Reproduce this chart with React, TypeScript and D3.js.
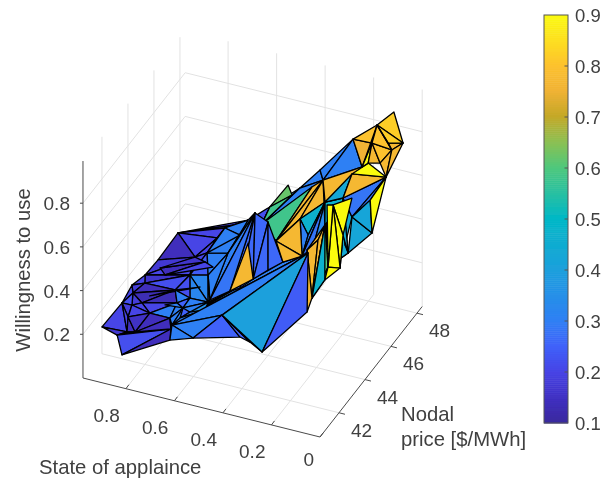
import React from 'react';
import * as d3 from 'd3';

const stateOfAppliance = [
  0.943, 0.834, 0.857, 0.927, 0.941, 0.919, 0.923, 0.686, 0.745, 0.799,
  0.745, 0.739, 0.637, 0.923, 0.902, 0.739, 0.646, 0.647, 0.573, 0.749,
  0.928, 0.87, 0.737, 0.899, 0.88, 0.815, 0.843, 0.721, 0.804, 0.644,
  0.688, 0.691, 0.528, 0.636, 0.431, 0.369, 0.252, 0.243, 0.205, 0.321,
  0.573, 0.593, 0.528, 0.329, 0.48, 0.524, 0.394, 0.215, 0.327, 0.344,
  0.451, 0.349, 0.407, 0.529, 0.396, 0.241, 0.322, 0.343, 0.113, 0.152,
  0.226, 0.185, 0.195, 0.033, 0.024, 0.071, 0.08, 0.004, 0.112, 0.083,
  0.134, 0.128, 0.112, 0.271, 0.002, 0.072, 0.248, 0.106, 0.024, 0.167,
  0.092, 0.006, 0.144, 0.248, 0.113, 0.031, 0.026, 0.057, 0.308, 0.358, 0.725,
  0.89, 0.722, 0.854, 0.651, 0.862, 0.642, 0.744, 0.609, 0.627, 0.533,
  0.615, 0.501, 0.453, 0.33, 0.38,
];
const nodalPrice = [
  41.37, 40.87, 40.93, 42.61, 43.64, 45.23, 46.84, 47.82, 47.13, 45.84,
  46.53, 45.65, 45.35, 44.31, 43.9, 44.32, 43.99, 42.61, 42.63, 43.38,
  43.47, 43.08, 43.3, 42.85, 42.2, 41.53, 41.43, 42.45, 42.45, 42.02,
  41.91, 41.89, 40.63, 41.02, 41.05, 41.27, 40.79, 44.16, 43.37, 41.14,
  42.76, 46.61, 43.46, 41.15, 44.36, 46.32, 45.04, 43.02, 43.26, 45.58,
  44.49, 46.43, 45.68, 46.55, 45.78, 45.27, 46.94, 45.95, 43.03, 44.01,
  44.14, 43.84, 44.8, 42.7, 43.06, 42.41, 43.04, 43.07, 44.4, 42.46,
  45.21, 45.39, 45.87, 47.37, 45.66, 45.59, 47.63, 46.52, 44.85, 45.58,
  47.94, 47.04, 47.62, 47.71, 46.65, 45.74, 46.55, 46.85, 46.29, 45.68, 47.38,
  44.85, 45.17, 44.56, 44.46, 43.53, 43.29, 42.5, 41.9, 41.48, 41.64,
  45.86, 43.74, 45.0, 46.17, 46.72,
];
const willingness = [
  0.18, 0.12, 0.2, 0.2, 0.2, 0.2, 0.2, 0.25, 0.25, 0.2,
  0.25, 0.25, 0.3, 0.2, 0.2, 0.25, 0.3, 0.3, 0.3, 0.25,
  0.18, 0.18, 0.2, 0.18, 0.18, 0.18, 0.18, 0.2, 0.2, 0.3,
  0.2, 0.15, 0.3, 0.3, 0.4, 0.3, 0.3, 0.5, 0.3, 0.3,
  0.3, 0.4, 0.3, 0.75, 0.3, 0.4, 0.35, 0.75, 0.6, 0.35,
  0.55, 0.6, 0.65, 0.45, 0.6, 0.75, 0.5, 0.35, 0.75, 0.55,
  0.3, 0.6, 0.4, 0.6, 0.9, 0.9, 0.85, 0.9, 0.6, 0.55,
  0.45, 0.8, 0.8, 0.5, 0.8, 0.85, 0.4, 0.45, 0.75, 0.45,
  0.9, 0.85, 0.85, 0.75, 0.85, 0.85, 0.85, 0.85, 0.7, 0.65, 0.25,
  0.2, 0.25, 0.2, 0.3, 0.18, 0.3, 0.25, 0.3, 0.3, 0.35,
  0.35, 0.3, 0.3, 0.35, 0.35,
];
// vertex a, vertex b, vertex c, face value; drawn in this order
const faces = [
  [6, 7, 90, 0.2], [6, 90, 8, 0.2], [6, 8, 10, 0.2], [6, 10, 9, 0.2], [6, 9, 5, 0.14],
  [10, 8, 11, 0.25], [9, 10, 11, 0.2],
  [5, 9, 13, 0.17], [9, 15, 13, 0.2], [9, 11, 15, 0.2], [11, 16, 15, 0.24], [11, 12, 16, 0.3],
  [11, 8, 7, 0.3], [11, 7, 12, 0.3], [8, 7, 101, 0.3], [8, 101, 11, 0.3],
  [13, 15, 14, 0.16], [4, 13, 14, 0.2], [4, 14, 20, 0.18],
  [91, 92, 93, 0.14], [92, 94, 93, 0.2], [9, 92, 91, 0.16],
  [14, 15, 19, 0.22], [14, 19, 20, 0.14], [20, 19, 21, 0.13], [21, 19, 22, 0.13], [20, 21, 23, 0.18],
  [15, 16, 18, 0.32], [15, 18, 17, 0.32], [15, 17, 19, 0.22], [95, 19, 96, 0.18],
  [0, 3, 26, 0.2], [3, 4, 20, 0.2], [3, 20, 23, 0.22], [3, 23, 24, 0.18], [3, 24, 26, 0.2],
  [0, 26, 2, 0.17], [24, 25, 26, 0.14], [21, 22, 28, 0.2], [21, 28, 23, 0.2], [23, 28, 24, 0.2],
  [24, 28, 25, 0.15], [22, 27, 28, 0.3], [22, 29, 27, 0.3], [19, 17, 22, 0.3], [22, 17, 29, 0.25],
  [22, 97, 29, 0.3], [17, 18, 29, 0.3], [28, 27, 25, 0.14], [26, 25, 2, 0.2], [2, 25, 30, 0.22],
  [2, 30, 1, 0.22], [30, 31, 1, 0.14], [25, 27, 30, 0.14], [27, 33, 30, 0.25], [27, 29, 33, 0.3],
  [33, 29, 18, 0.3], [33, 18, 42, 0.3], [33, 42, 44, 0.28], [33, 44, 46, 0.3], [33, 46, 49, 0.3], [33, 49, 37, 0.3],
  [29, 98, 99, 0.25], [98, 18, 100, 0.35], [99, 98, 100, 0.3], [33, 99, 100, 0.3],
  [7, 53, 50, 0.22], [7, 41, 50, 0.22], [53, 89, 50, 0.3], [89, 88, 55, 0.3], [88, 83, 55, 0.3],
  [89, 55, 50, 0.3], [12, 7, 41, 0.3], [12, 41, 40, 0.3], [16, 12, 40, 0.3], [16, 40, 18, 0.3],
  [53, 52, 54, 0.62], [53, 54, 50, 0.58], [50, 51, 48, 0.58], [50, 48, 46, 0.27],
  [41, 42, 102, 0.26], [41, 102, 44, 0.26], [41, 44, 45, 0.26], [40, 41, 42, 0.28], [42, 43, 44, 0.77],
  [44, 45, 103, 0.26], [103, 45, 46, 0.26],
  [48, 51, 55, 0.77], [48, 55, 47, 0.77], [48, 56, 47, 0.47], [47, 55, 56, 0.77],
  [47, 56, 105, 0.47], [47, 105, 49, 0.3], [49, 105, 56, 0.3], [48, 47, 49, 0.77],
  [48, 49, 46, 0.77], [49, 59, 56, 0.3], [49, 56, 104, 0.28], [104, 56, 59, 0.33], [55, 56, 58, 0.58],
  [56, 58, 59, 0.58], [57, 58, 61, 0.77], [57, 61, 60, 0.77], [61, 58, 60, 0.77], [58, 59, 62, 0.5],
  [58, 62, 60, 0.6], [62, 69, 60, 0.47], [58, 60, 69, 0.47], [57, 60, 38, 0.77],
  [56, 59, 79, 0.44], [59, 79, 70, 0.44], [59, 70, 62, 0.44], [70, 68, 62, 0.44], [68, 63, 62, 0.44],
  [56, 64, 58, 0.47], [56, 71, 64, 0.43],
  [73, 76, 79, 0.44], [73, 79, 70, 0.44], [73, 70, 68, 0.44], [76, 77, 70, 0.42],
  [74, 76, 73, 0.28], [74, 78, 76, 0.28], [76, 78, 77, 0.42], [74, 77, 78, 0.9],
  [66, 67, 68, 0.9], [66, 68, 63, 0.9], [66, 63, 62, 0.9], [65, 66, 62, 0.9], [69, 62, 63, 0.9],
  [83, 72, 55, 0.3], [55, 72, 56, 0.77], [56, 71, 73, 0.43], [73, 71, 74, 0.77], [71, 75, 74, 0.9],
  [83, 72, 84, 0.75], [83, 84, 82, 0.8], [82, 72, 84, 0.9], [84, 72, 75, 0.9], [84, 85, 75, 0.77],
  [84, 86, 85, 0.8], [84, 82, 86, 0.8], [86, 74, 85, 0.77], [87, 81, 86, 0.77], [81, 74, 86, 0.77],
  [82, 80, 81, 0.82], [82, 81, 87, 0.82], [82, 87, 86, 0.82],
  [33, 37, 34, 0.3], [33, 34, 32, 0.3], [33, 32, 31, 0.3], [34, 35, 32, 0.25], [34, 39, 35, 0.25],
  [34, 36, 39, 0.3], [34, 37, 36, 0.4], [37, 38, 36, 0.24],
];

const stateTicks = [0.8, 0.6, 0.4, 0.2, 0];
const priceTicks = [42, 44, 46, 48];
const willingnessTicks = [0.2, 0.4, 0.6, 0.8];
const colorbarTicks = [0.1, 0.2, 0.3, 0.4, 0.5, 0.6, 0.7, 0.8, 0.9];

const stateMax = 0.977;
const priceMin = 40.54;
const priceMax = 48.4;
const willingnessMax = 0.993;

// screen offsets of each data axis from the corner of the floor at state 0, lowest price
const originX = 320;
const originY = 437;
const stateToX = d3.scaleLinear().domain([0, 1]).range([0, -242.6]);
const stateToY = d3.scaleLinear().domain([0, 1]).range([0, -60.4]);
const priceToX = d3.scaleLinear().domain([priceMin, priceMin + 1]).range([0, 13]);
const priceToY = d3.scaleLinear().domain([priceMin, priceMin + 1]).range([0, -16.6]);
const willingnessToY = d3.scaleLinear().domain([0, 1]).range([0, -218.5]);

const project = (s: number, p: number, z: number): [number, number] => [
  originX + stateToX(s) + priceToX(p),
  originY + stateToY(s) + priceToY(p) + willingnessToY(z),
];

const parula = d3
  .scaleLinear<string>()
  .domain([0.1, 0.15, 0.2, 0.25, 0.3, 0.4, 0.5, 0.6, 0.65, 0.7, 0.75, 0.8, 0.85, 0.9])
  .range(['#3a2a9e', '#4030c4', '#4644e6', '#4062fa', '#2f80f4', '#1ca0dc', '#02b8c6', '#4fc87c', '#8cc052', '#c4a828', '#f0b234', '#fdc22e', '#fde020', '#fbfb10']);

const barX = 544;
const barWidth = 24;
const barScale = d3.scaleLinear().domain([0.1, 0.9]).range([423, 15]);

const textColor = '#404040';
const gridColor = '#e2e2e2';
const labelFont = 'Liberation Sans, Arial, sans-serif';

const App = () => {
  const path = d3.line();
  const seg = (a: [number, number], b: [number, number]) => path([a, b]) as string;

  const grid: string[] = [];
  stateTicks.forEach(s => {
    if (s > 0) grid.push(seg(project(s, priceMin, 0), project(s, priceMax, 0)));
    grid.push(seg(project(s, priceMax, 0), project(s, priceMax, willingnessMax)));
  });
  priceTicks.forEach(p => {
    grid.push(seg(project(0, p, 0), project(stateMax, p, 0)));
    grid.push(seg(project(stateMax, p, 0), project(stateMax, p, willingnessMax)));
  });
  willingnessTicks.forEach(z => {
    grid.push(seg(project(stateMax, priceMin, z), project(stateMax, priceMax, z)));
    grid.push(seg(project(stateMax, priceMax, z), project(0, priceMax, z)));
  });

  const barSteps = d3.range(0.1, 0.9, 0.004);

  return (
    <svg
      width={611}
      height={479}
      style={{ position: 'fixed', left: 0, top: 0, fontFamily: labelFont }}
    >
      <defs>
        <filter id="soft" x="0" y="0" width="611" height="479" filterUnits="userSpaceOnUse">
          <feGaussianBlur stdDeviation="0.4" />
        </filter>
      </defs>
      <g filter="url(#soft)">
        <g fill="none" stroke={gridColor} strokeWidth={1}>
          {grid.map((d, i) => <path key={i} d={d} />)}
        </g>

        <g strokeLinejoin="round" stroke="#000" strokeWidth={1.3}>
          {faces.map(([a, b, c, level], i) => {
            const pts = [a, b, c].map(v => project(stateOfAppliance[v], nodalPrice[v], willingness[v]));
            return <path key={i} d={`${path(pts)}Z`} fill={parula(level)} />;
          })}
        </g>

        <g fill="none" stroke="#4a4a4a" strokeWidth={1}>
          <path d={seg(project(stateMax, priceMin, 0), project(0, priceMin, 0))} />
          <path d={seg(project(0, priceMin, 0), project(0, priceMax, 0))} />
          <path d={seg(project(stateMax, priceMin, 0), project(stateMax, priceMin, willingnessMax))} />
        </g>

        {stateTicks.map(s => {
          const [x, y] = project(s, priceMin, 0);
          return (
            <g key={s}>
              <line x1={x} y1={y} x2={x + 3} y2={y - 4} stroke="#4a4a4a" />
              <text x={x - 6} y={y + (s === 0 ? 29 : 33)} textAnchor="end" fontSize={19} fill={textColor}>{s}</text>
            </g>
          );
        })}
        {priceTicks.map(p => {
          const [x, y] = project(0, p, 0);
          return (
            <g key={p}>
              <line x1={x} y1={y} x2={x + 6} y2={y + 1.5} stroke="#4a4a4a" />
              <text x={x + 12} y={y + 24} fontSize={19} fill={textColor}>{p}</text>
            </g>
          );
        })}
        {willingnessTicks.map(z => {
          const [x, y] = project(stateMax, priceMin, z);
          return (
            <g key={z}>
              <line x1={x - 3} y1={y} x2={x} y2={y} stroke="#4a4a4a" />
              <text x={x - 13} y={y + 7} textAnchor="end" fontSize={19} fill={textColor}>{z}</text>
            </g>
          );
        })}

        <text x={39} y={474} fontSize={20.3} fill={textColor}>State of applaince</text>
        <text x={401} y={421} fontSize={20.3} fill={textColor}>Nodal</text>
        <text x={401} y={446} fontSize={20.3} fill={textColor}>price [$/MWh]</text>
        <text
          transform="translate(30,270) rotate(-90)"
          textAnchor="middle"
          fontSize={20.3}
          fill={textColor}
        >
          Willingness to use
        </text>

        {barSteps.map(v => (
          <rect
            key={v}
            x={barX}
            y={barScale(v + 0.004)}
            width={barWidth}
            height={barScale(v) - barScale(v + 0.004) + 0.5}
            fill={parula(v)}
          />
        ))}
        <rect x={barX} y={barScale(0.9)} width={barWidth} height={barScale(0.1) - barScale(0.9)} fill="none" stroke="#555" />
        {colorbarTicks.map(v => (
          <g key={v}>
            {v > 0.1 && v < 0.9 && (
              <line x1={barX + barWidth - 3.5} x2={barX + barWidth} y1={barScale(v)} y2={barScale(v)} stroke="#555" />
            )}
            <text x={575} y={barScale(v) + 7} fontSize={18.5} fill={textColor}>{v}</text>
          </g>
        ))}
      </g>
    </svg>
  );
};

export default App;
